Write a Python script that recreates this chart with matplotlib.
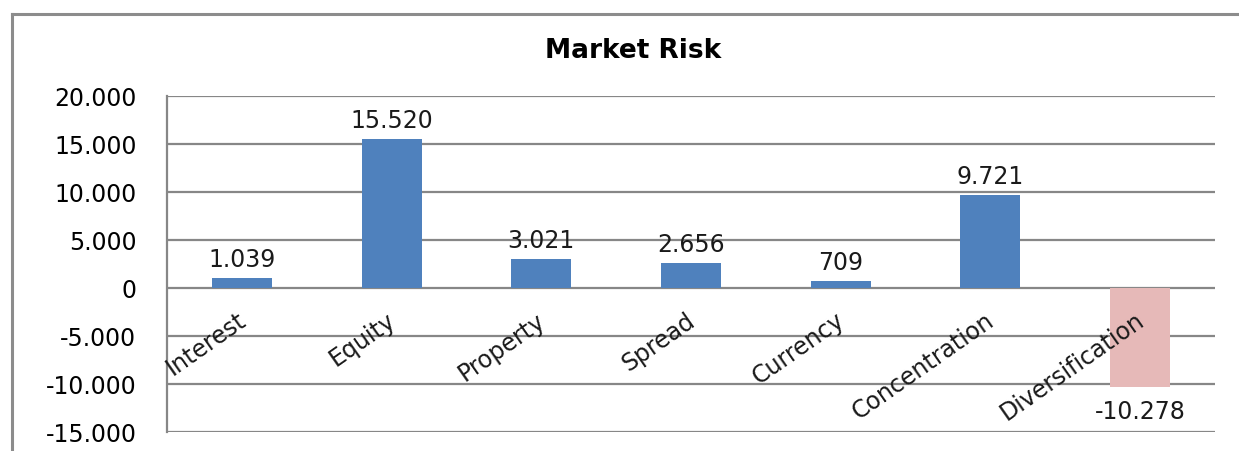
import matplotlib.pyplot as plt
from matplotlib.lines import Line2D
from matplotlib.ticker import FuncFormatter, MultipleLocator

categories = ['Interest', 'Equity', 'Property', 'Spread', 'Currency',
              'Concentration', 'Diversification']
values = [1039, 15520, 3021, 2656, 709, 9721, -10278]
colors = ['#4F81BD'] * 6 + ['#E6B9B8']

def dotted_thousands(v, pos=None):
    # european style: 15.520 instead of 15,520
    return '{:,.0f}'.format(v).replace(',', '.')

plt.rcParams['font.family'] = ['DejaVu Sans']
fig = plt.figure(figsize=(12.39, 4.52), dpi=100)
ax = fig.add_axes([167 / 1239, 1 - 433 / 452, (1215 - 167) / 1239, (433 - 97) / 452])

x = range(len(categories))
ax.bar(x, values, width=0.4, color=colors, zorder=3)

for xi, v in zip(x, values):
    if v >= 0:
        ax.annotate(dotted_thousands(v), (xi, v), xytext=(0, 5), textcoords='offset points',
                    ha='center', va='bottom', fontsize=17, color='#1a1a1a')
    else:
        ax.annotate(dotted_thousands(v), (xi, v), xytext=(0, -9), textcoords='offset points',
                    ha='center', va='top', fontsize=17, color='#1a1a1a')

ax.set_xlim(-0.5, len(categories) - 0.5)
ax.set_ylim(-15000, 20000)
ax.yaxis.set_major_locator(MultipleLocator(5000))
ax.yaxis.set_major_formatter(FuncFormatter(dotted_thousands))
ax.grid(axis='y', color='#878787', linewidth=1.6, zorder=0)
ax.set_axisbelow(True)

ax.spines['bottom'].set_visible(False)
ax.spines['left'].set_color('#878787')
ax.spines['left'].set_linewidth(1.6)
ax.spines['top'].set_visible(False)
ax.spines['right'].set_visible(False)

# category names hang below the zero line, drawn over the bars
ax.set_xticks([])
for xi, name in zip(x, categories):
    ax.annotate(name, (xi, 0), xytext=(-4, -14), textcoords='offset points',
                rotation=35, ha='right', va='top', rotation_mode='anchor',
                fontsize=17, color='#1a1a1a', zorder=5)
ax.tick_params(axis='y', length=0, pad=22, labelsize=17)

fig.text(633 / 1239, 1 - 51 / 452, 'Market Risk', ha='center', va='center',
         fontsize=19, fontweight='bold')

# chart frame, running off the right and bottom edges
frame_kw = dict(color='#8c8c8c', linewidth=2.2, transform=fig.transFigure)
fig.add_artist(Line2D([12 / 1239, 1.0], [1 - 15 / 452, 1 - 15 / 452], **frame_kw))
fig.add_artist(Line2D([12 / 1239, 12 / 1239], [0.0, 1 - 15 / 452], **frame_kw))

fig.savefig('out.png', dpi=100)
